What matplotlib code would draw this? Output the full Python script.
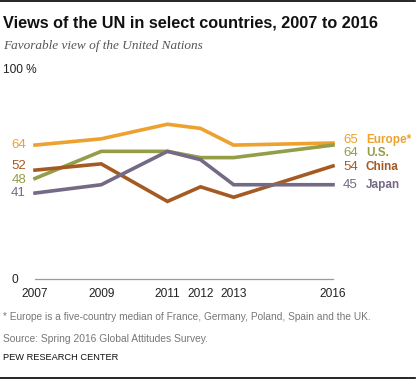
import matplotlib
matplotlib.use('Agg')
import matplotlib.pyplot as plt
from matplotlib.lines import Line2D

# ---- data ----
years = [2007, 2009, 2011, 2012, 2013, 2016]
year_labels = ['2007', '2009', '2011', '2012', '2013', '2016']
europe = [64, 67, 74, 72, 64, 65]
us = [48, 61, 61, 58, 58, 64]
china = [52, 55, 37, 44, 39, 54]
japan = [41, 45, 61, 57, 45, 45]
series_names = ['Europe*', 'U.S.', 'China', 'Japan']
title = 'Views of the UN in select countries, 2007 to 2016'
subtitle = 'Favorable view of the United Nations'
note = '* Europe is a five-country median of France, Germany, Poland, Spain and the UK.'
source = 'Source: Spring 2016 Global Attitudes Survey.'
credit = 'PEW RESEARCH CENTER'

# ---- style ----
colors = ['#EDA12F', '#949D48', '#A65A23', '#756A85']
left_label_y = [64, 47.3, 54, 41]
right_label_y = [66.4, 60.3, 53.5, 44.7]

W, H = 420, 380
fig = plt.figure(figsize=(W / 100, H / 100), dpi=100)
fig.patch.set_facecolor('white')

sans = ['Liberation Sans', 'DejaVu Sans']
serif = ['Liberation Serif', 'DejaVu Serif']

x0, x1 = 35, 333
y0, y1 = 278.6, 70
ax = fig.add_axes([x0 / W, 1 - y0 / H, (x1 - x0) / W, (y0 - y1) / H])
ax.set_xlim(2007, 2016)
ax.set_ylim(0, 100)
for s in ax.spines.values():
    s.set_visible(False)
ax.axhline(0, color='#9a9a9a', lw=0.9, clip_on=False)

all_series = [europe, us, china, japan]
for vals, c in zip(all_series, colors):
    ax.plot(years, vals, color=c, lw=2.6, solid_joinstyle='miter', clip_on=False)

ax.set_xticks(years)
ax.set_xticklabels(year_labels, family=sans, fontsize=8.6, color='#222222')
ax.tick_params(axis='x', length=0, pad=7)
ax.set_yticks([0])
ax.set_yticklabels(['0'], family=sans, fontsize=8.6, color='#222222')
ax.tick_params(axis='y', length=0, pad=12)
ax.text(2007 - 0.96, 100, '100 %', family=sans, fontsize=8.6,
        color='#222222', ha='left', va='center', clip_on=False)

for vals, c, ly in zip(all_series, colors, left_label_y):
    ax.text(2007 - 0.27, ly, str(vals[0]), color=c, family=sans, fontsize=9.5,
            ha='right', va='center', clip_on=False)
for vals, name, c, ry in zip(all_series, series_names, colors, right_label_y):
    ax.text(2016.75, ry, str(vals[-1]), color=c, family=sans, fontsize=9.5,
            ha='right', va='center', clip_on=False)
    ax.text(2016.99, ry, name, color=c, family=sans, fontsize=8.5, fontweight='bold',
            ha='left', va='center', clip_on=False)


def fit_text(x, y, s, target_w, **kw):
    t = fig.text(x / W, 1 - y / H, s, **kw)
    fig.canvas.draw()
    r = fig.canvas.get_renderer()
    w = t.get_window_extent(r).width
    t.set_fontsize(t.get_fontsize() * target_w / w)
    return t


fit_text(3, 27.7, title, 375, family=sans, fontweight='bold', fontsize=12,
         color='#111111', va='baseline', ha='left')
fit_text(3, 49, subtitle, 199, family=serif, style='italic', fontsize=9,
         color='#555555', va='baseline', ha='left')
fit_text(3, 317, note, 365, family=sans, fontsize=7.5, color='#777777',
         va='center', ha='left')
fit_text(3, 339, source, 204, family=sans, fontsize=7.5, color='#777777',
         va='center', ha='left')
fit_text(3, 358, credit, 115, family=sans, fontsize=7, color='#111111',
         va='center', ha='left')

fig.add_artist(Line2D([0, 415 / W], [1 - 1 / H, 1 - 1 / H], color='black', lw=1.2))
fig.add_artist(Line2D([0, 415 / W], [1 - 378 / H, 1 - 378 / H], color='black', lw=1.2))

fig.savefig('out.png', dpi=100, facecolor='white')
